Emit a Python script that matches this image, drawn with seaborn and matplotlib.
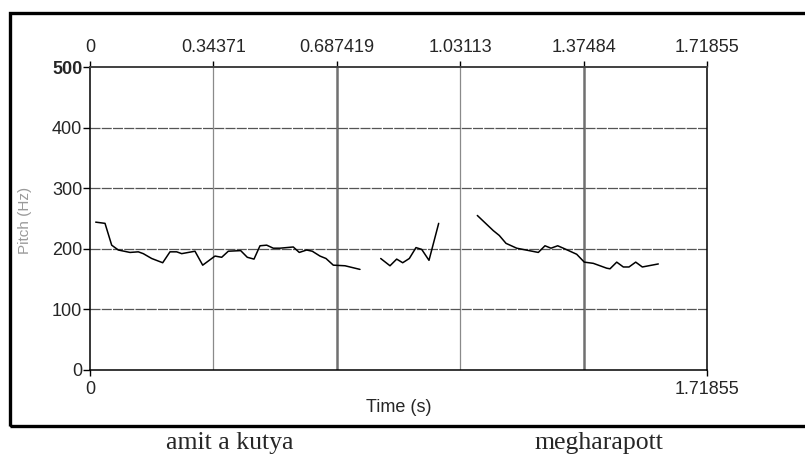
import matplotlib
matplotlib.use("Agg")
import matplotlib.pyplot as plt
import seaborn as sns
import pandas as pd
from matplotlib.patches import Rectangle

# ---- data ----
seg1_t = [0.0159, 0.0418, 0.0604, 0.0788, 0.1114, 0.1345, 0.1484, 0.1718, 0.2025,
          0.2228, 0.2415, 0.2554, 0.2924, 0.3139, 0.3482, 0.3668, 0.3852, 0.4197,
          0.4381, 0.4568, 0.4735, 0.4922, 0.5105, 0.5292, 0.5662, 0.5829, 0.6035,
          0.6191, 0.6406, 0.6573, 0.6777, 0.7103, 0.7520]
seg1_f = [244, 242, 206, 198, 194, 195, 192, 184, 177,
          195, 195, 192, 196, 173, 188, 186, 196, 197,
          186, 183, 205, 206, 201, 201, 203, 194, 198,
          196, 188, 184, 173, 172, 166]
seg2_t = [0.8097, 0.8356, 0.8542, 0.8710, 0.8894, 0.9080, 0.9239, 0.9442, 0.9712]
seg2_f = [184, 172, 183, 177, 184, 202, 199, 181, 242]
seg3_t = [1.0788, 1.1233, 1.1400, 1.1587, 1.1885, 1.2487, 1.2673, 1.2840, 1.3027,
          1.3183, 1.3556, 1.3768, 1.4019, 1.4392, 1.4484, 1.4671, 1.4855, 1.5013,
          1.5200, 1.5384, 1.5829]
seg3_f = [255, 230, 222, 209, 201, 194, 205, 201, 205,
          201, 191, 178, 176, 168, 167, 178, 170, 170,
          178, 170, 175]

top_ticks = [0, 0.34371, 0.687419, 1.03113, 1.37484, 1.71855]
top_labels = ["0", "0.34371", "0.687419", "1.03113", "1.37484", "1.71855"]
bottom_ticks = [0, 1.71855]
bottom_labels = ["0", "1.71855"]
y_ticks = [0, 100, 200, 300, 400, 500]
y_labels = ["0", "100", "200", "300", "400", "500"]
x_max = 1.71855
y_max = 500
x_title = "Time (s)"
y_title = "Pitch (Hz)"
words = ["amit a kutya", "megharapott"]

# ---- build table ----
rows = []
for name, ts, fs in (("s1", seg1_t, seg1_f), ("s2", seg2_t, seg2_f), ("s3", seg3_t, seg3_f)):
    for t, f in zip(ts, fs):
        rows.append({"seg": name, "t": t, "f": f})
df = pd.DataFrame(rows)

sns.set_theme(style="white")
plt.rcParams["font.family"] = ["Liberation Sans", "DejaVu Sans"]

W, H = 805, 457
fig = plt.figure(figsize=(W / 100, H / 100), dpi=100)
fig.patch.set_facecolor("white")
ax = fig.add_axes([90 / W, 1 - 370 / H, 617 / W, 303 / H])
ax.set_facecolor("white")

# grid lines
for i, xv in enumerate(top_ticks[1:-1]):
    thick = i % 2 == 1
    ax.axvline(xv, color="#707070" if thick else "#8a8a8a",
               lw=1.8 if thick else 0.9, zorder=1)
for yv in y_ticks[1:-1]:
    ax.axhline(yv, color="#555555", lw=0.9, ls=(0, (8, 1)), zorder=1)

sns.lineplot(data=df, x="t", y="f", units="seg", estimator=None, sort=False,
             color="black", lw=1.1, ax=ax, zorder=3)

ax.set_xlim(0, x_max)
ax.set_ylim(0, y_max)

for s in ("left", "bottom", "right"):
    ax.spines[s].set_color("black")
    ax.spines[s].set_linewidth(1.1)
ax.spines["top"].set_color("#404040")
ax.spines["top"].set_linewidth(1.4)

ax.set_xticks(bottom_ticks)
ax.set_xticklabels(bottom_labels)
ax.set_yticks(y_ticks)
ax.set_yticklabels(y_labels)
ax.tick_params(axis="x", bottom=True, top=False, direction="out", length=4,
               width=1, color="black", labelsize=13, pad=4)
ax.tick_params(axis="y", left=True, direction="out", length=5, width=1,
               color="black", labelsize=13, pad=0.5)
for lab in ax.get_yticklabels():
    if lab.get_text() == "500":
        lab.set_fontweight("bold")
ax.set_xlabel("")
ax.set_ylabel("")

sec = ax.secondary_xaxis("top")
sec.set_xticks(top_ticks)
sec.set_xticklabels(top_labels)
sec.tick_params(direction="out", length=4, width=1, color="black", labelsize=13, pad=4)
sec.spines["top"].set_visible(False)

fig.text(398.5 / W, 1 - 407 / H, x_title, ha="center", va="center", fontsize=13)
fig.text(25 / W, 1 - 220 / H, y_title, rotation=90, ha="center", va="center",
         fontsize=11, color="#9a9a9a")

# outer frame
fig.patches.append(Rectangle((10 / W, 1 - 425.5 / H), 1.0, (425.5 - 12.5) / H,
                             transform=fig.transFigure, fill=False,
                             edgecolor="black", lw=2.4, zorder=0))

fig.text(230 / W, 1 - 443 / H, words[0], ha="center", va="center",
         fontsize=18.5, family=["Liberation Serif", "DejaVu Serif"])
fig.text(599 / W, 1 - 443 / H, words[1], ha="center", va="center",
         fontsize=18.5, family=["Liberation Serif", "DejaVu Serif"])

fig.savefig("out.png", dpi=100)
